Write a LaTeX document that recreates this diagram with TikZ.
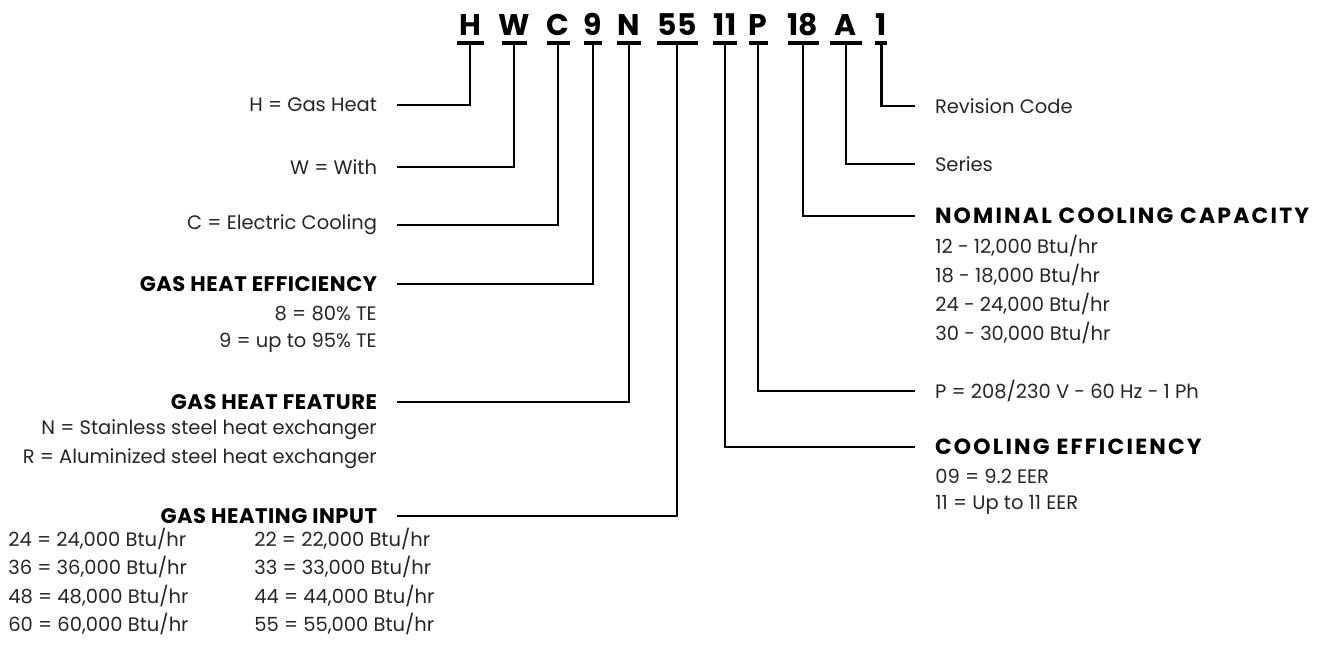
\documentclass[tikz,border=0pt]{standalone}
\usepackage{fontspec}
\setmainfont{Poppins}
\newfontfamily\lheadfont[LetterSpace=2.5]{Poppins}
\newfontfamily\rheadfont[LetterSpace=10]{Poppins}
\usetikzlibrary{positioning}

\begin{document}
\begin{tikzpicture}[x=0.02cm,y=-0.02cm]
  \tikzstyle{code}=[font=\fontsize{17}{20}\selectfont\bfseries, inner sep=0pt, anchor=base]
  \tikzstyle{head}=[font=\lheadfont\fontsize{12}{14}\selectfont\bfseries, inner sep=0pt]
  \tikzstyle{rhead}=[font=\rheadfont\fontsize{12.5}{14}\selectfont\bfseries, inner sep=0pt]
  \tikzstyle{item}=[font=\fontsize{11.1}{13}\selectfont, inner sep=0pt, text=black!85]
  \tikzstyle{uline}=[line width=2.4pt]
  \tikzstyle{link}=[line width=1.7pt]
  \tikzstyle{lhs}=[anchor=east, outer xsep=20*0.02cm]
  \tikzstyle{rhs}=[anchor=west, outer xsep=20*0.02cm]

  \useasboundingbox (0,0) rectangle (1323,649);

  % model code and the bars under it
  \foreach \name/\txt/\x/\w in {H/H/470/27, W/W/514/25, C/C/558/23, E/9/593/18,
      N/N/629/24, I/55/677/41, F/11/725/24, P/P/758/19, S/18/803/31,
      A/A/846/32, R/1/881/12}{
    \node[code] (c\name) at (\x,35) {\txt};
    \draw[uline] (\x-\w/2,43) -- (\x+\w/2,43);
    \coordinate (u\name) at (\x,43);
  }

  % left side
  \node[item, lhs] (lH) at (397,105) {H = Gas Heat};
  \node[item, lhs] (lW) at (397,167) {W = With};
  \node[item, lhs] (lC) at (397,225) {C = Electric Cooling};
  \node[head, lhs] (lE) at (397,284) {GAS HEAT EFFICIENCY};
  \node[item, anchor=east] (lE1) at (377,314) {8 = 80\% TE};
  \node[item, anchor=east] (lE2) at (377,343) {9 = up to 95\% TE};
  \node[head, lhs] (lN) at (397,402) {GAS HEAT FEATURE};
  \node[item, anchor=east] (lN1) at (377,430) {N = Stainless steel heat exchanger};
  \node[item, anchor=east] (lN2) at (377,459) {R = Aluminized steel heat exchanger};
  \node[head, lhs] (lI) at (397,516) {GAS HEATING INPUT};
  \foreach \a/\b/\c/\d [count=\k] in {24/24/22/22, 36/36/33/33, 48/48/44/44, 60/60/55/55}{
    \node[item, anchor=west] (lIa\k) at (8,510+28.5*\k) {\a{} = \b,000 Btu/hr};
    \node[item, anchor=west] (lIb\k) at (254,510+28.5*\k) {\c{} = \d,000 Btu/hr};
  }

  % right side
  \node[item, rhs] (rR) at (915,106) {Revision Code};
  \node[item, rhs] (rA) at (915,164) {Series};
  \node[rhead, rhs] (rS) at (915,216) {NOMINAL COOLING CAPACITY};
  \foreach \v [count=\k] in {12,18,24,30}{
    \node[item, anchor=west] (rS\k) at (935,217+29*\k) {\v{} - \v,000 Btu/hr};
  }
  \node[item, rhs] (rP) at (915,391) {P = 208/230 V - 60 Hz - 1 Ph};
  \node[rhead, rhs] (rF) at (915,447) {COOLING EFFICIENCY};
  \node[item, anchor=west] (rF1) at (935,476) {09 = 9.2 EER};
  \node[item, anchor=west] (rF2) at (935,505) {11 = Up to 11 EER};

  % connectors
  \foreach \u/\l in {H/lH, W/lW, C/lC, E/lE, N/lN, I/lI, F/rF, P/rP, S/rS, A/rA, R/rR}
    \draw[link] (u\u) |- (\l);
\end{tikzpicture}
\end{document}
